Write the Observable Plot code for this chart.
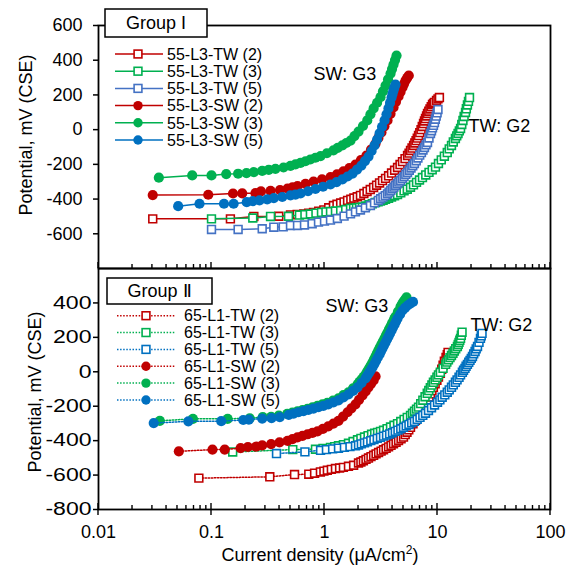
<!DOCTYPE html>
<html><head><meta charset="utf-8">
<script src="https://cdn.jsdelivr.net/npm/d3@7"></script>
<script src="https://cdn.jsdelivr.net/npm/@observablehq/plot@0.6"></script>
<style>
body{margin:0;background:#fff;}
#wrap{position:relative;width:572px;height:565px;font-family:"Liberation Sans",Arial,sans-serif;}
#wrap svg{position:absolute;left:0;}
</style></head><body><div id="wrap"></div>
<script>
// ---------- Data (current density µA/cm², potential mV CSE) ----------
// Group I (top panel)
const topTW2Current = [0.0302, 0.147, 0.237, 0.394, 0.50, 0.573, 0.656, 0.724, 0.80, 0.889, 0.987, 1.09, 1.20, 1.29, 1.39, 1.49, 1.60, 1.71, 1.82, 1.95, 2.08, 2.23, 2.38, 2.54, 2.72, 2.89, 3.07, 3.26, 3.47, 3.69, 3.92, 4.17, 4.43, 4.66, 4.90, 5.16, 5.43, 5.60, 5.77, 5.95, 6.14, 6.30, 6.46, 6.62, 6.79, 6.97, 7.15, 7.33, 7.52, 7.67, 7.83, 8.0, 8.16, 8.37, 8.58, 8.80, 9.03, 9.22, 9.41, 9.80, 10.1, 10.4];
const topTW2Potential = [-514, -514, -500, -499, -491, -488, -485, -481, -477, -470, -462, -450, -437, -430, -423, -416, -408, -401, -394, -387, -379, -368, -356, -345, -333, -320, -307, -294, -281, -266, -250, -234, -218, -201, -184, -167, -149, -135, -120, -106, -91, -77, -63, -49, -34, -17, 0, 18, 35, 50, 64, 79, 93, 106, 119, 132, 145, 151, 157, 168, 177, 185];

const topTW3Current = [0.1, 0.232, 0.333, 0.48, 0.60, 0.671, 0.75, 0.84, 0.94, 1.03, 1.13, 1.25, 1.39, 1.54, 1.70, 1.81, 1.92, 2.04, 2.17, 2.32, 2.48, 2.65, 2.83, 2.98, 3.13, 3.30, 3.47, 3.69, 3.92, 4.17, 4.43, 4.73, 5.06, 5.40, 5.77, 6.13, 6.52, 6.93, 7.36, 7.87, 8.41, 8.98, 9.6, 10.2, 10.8, 11.5, 12.2, 12.7, 13.3, 13.8, 14.4, 14.8, 15.2, 15.6, 16.0, 16.4, 16.8, 17.2, 17.7, 18.0, 18.4, 18.8, 19.2];
const topTW3Potential = [-514, -509, -500, -499, -492, -489, -486, -481, -477, -474, -472, -469, -466, -460, -454, -452, -450, -448, -446, -440, -433, -427, -420, -416, -411, -407, -402, -395, -388, -381, -374, -364, -353, -343, -332, -318, -304, -290, -276, -261, -246, -231, -216, -195, -174, -153, -132, -111, -91, -71, -51, -36, -22, -7, 7, 30, 53, 76, 99, 120, 142, 163, 185];

const topTW5Current = [0.1, 0.172, 0.281, 0.356, 0.431, 0.50, 0.577, 0.665, 0.778, 0.885, 1.0, 1.13, 1.30, 1.49, 1.70, 1.88, 2.08, 2.30, 2.55, 2.77, 3.0, 3.14, 3.29, 3.45, 3.61, 3.73, 3.86, 3.99, 4.12, 4.26, 4.40, 4.55, 4.71, 4.88, 5.06, 5.24, 5.43, 5.63, 5.83, 6.04, 6.25, 6.48, 6.71, 6.96, 7.21, 7.44, 7.67, 7.91, 8.16, 8.41, 8.67, 8.85, 9.03, 9.21, 9.4, 9.57, 9.74, 9.92, 10.1];
const topTW5Potential = [-575, -575, -571, -562, -560, -552, -552, -549, -542, -533, -527, -521, -512, -498, -485, -474, -463, -450, -437, -422, -408, -398, -389, -380, -370, -360, -350, -340, -331, -321, -312, -302, -293, -281, -270, -258, -247, -234, -221, -208, -195, -179, -163, -147, -132, -117, -103, -88, -74, -48, -22, -6, 10, 25, 41, 60, 78, 97, 116];

const topSW2Current = [0.0302, 0.0936, 0.155, 0.187, 0.245, 0.274, 0.333, 0.404, 0.471, 0.521, 0.577, 0.679, 0.80, 0.951, 1.13, 1.29, 1.47, 1.66, 1.88, 2.10, 2.35, 2.58, 2.83, 3.0, 3.19, 3.39, 3.61, 3.84, 4.08, 4.29, 4.52, 4.71, 4.90, 5.05, 5.21, 5.39, 5.57];
const topSW2Potential = [-377, -375, -368, -367, -366, -356, -353, -348, -339, -332, -325, -312, -299, -286, -273, -257, -241, -221, -201, -175, -149, -115, -80, -48, -16, 19, 53, 91, 128, 160, 191, 217, 243, 263, 283, 298, 312];

const topSW3Current = [0.0342, 0.0675, 0.1, 0.135, 0.172, 0.204, 0.237, 0.281, 0.321, 0.368, 0.434, 0.5, 0.554, 0.614, 0.679, 0.75, 0.832, 0.923, 1.05, 1.20, 1.31, 1.44, 1.56, 1.70, 1.84, 2.0, 2.19, 2.39, 2.55, 2.72, 2.92, 3.13, 3.29, 3.47, 3.65, 3.84, 3.96, 4.08, 4.21, 4.34];
const topSW3Potential = [-277, -264, -264, -256, -254, -251, -245, -238, -232, -226, -218, -209, -200, -192, -182, -172, -162, -152, -136, -120, -105, -91, -77, -63, -37, -11, 21, 53, 88, 122, 155, 187, 220, 254, 289, 323, 349, 375, 401, 427];

const topSW5Current = [0.0507, 0.0783, 0.129, 0.157, 0.205, 0.232, 0.266, 0.311, 0.356, 0.423, 0.5, 0.554, 0.614, 0.715, 0.832, 0.970, 1.13, 1.28, 1.44, 1.60, 1.77, 1.94, 2.12, 2.28, 2.45, 2.61, 2.77, 2.92, 3.07, 3.23, 3.40, 3.54, 3.68, 3.80, 3.92, 4.0, 4.08, 4.16, 4.25];
const topSW5Potential = [-441, -427, -427, -427, -418, -412, -408, -402, -394, -388, -379, -374, -368, -355, -342, -329, -316, -302, -287, -270, -253, -230, -207, -181, -155, -123, -91, -57, -22, 16, 53, 88, 122, 154, 185, 206, 226, 243, 260];

// Group II (bottom panel)
const botTW2Current = [0.0773, 0.328, 0.543, 0.726, 0.817, 0.92, 0.988, 1.06, 1.15, 1.25, 1.36, 1.47, 1.63, 1.81, 2.0, 2.10, 2.21, 2.33, 2.45, 2.58, 2.72, 2.86, 3.01, 3.17, 3.33, 3.51, 3.69, 3.88, 4.08, 4.30, 4.52, 4.76, 5.0, 5.18, 5.37, 5.57, 5.77, 6.07, 6.39, 6.73, 7.08, 7.34, 7.60, 7.87, 8.16, 8.41, 8.66, 8.93, 9.2, 9.53, 9.88, 10.2, 10.6, 10.9, 11.2, 11.5, 11.9, 12.2, 12.4];
const botTW2Potential = [-618, -610, -597, -595, -589, -582, -577, -572, -567, -562, -559, -555, -549, -543, -530, -524, -517, -509, -501, -493, -485, -477, -469, -461, -453, -445, -436, -427, -418, -409, -399, -389, -379, -365, -351, -337, -323, -302, -282, -262, -241, -222, -204, -185, -166, -147, -128, -109, -90, -70, -50, -30, -9, 15, 38, 61, 84, 99, 113];

const botTW3Current = [0.154, 0.524, 0.832, 0.970, 1.13, 1.23, 1.33, 1.47, 1.63, 1.79, 1.96, 2.10, 2.26, 2.43, 2.61, 2.78, 2.95, 3.13, 3.33, 3.58, 3.84, 4.12, 4.43, 4.73, 5.06, 5.40, 5.77, 6.01, 6.26, 6.52, 6.79, 7.10, 7.42, 7.76, 8.11, 8.37, 8.64, 8.92, 9.2, 9.53, 9.88, 10.2, 10.6, 11.2, 11.8, 12.1, 12.5, 12.9, 13.3, 13.7, 14.1, 14.5, 15.0, 15.25, 15.5, 15.75, 16.0, 16.25, 16.5];
const botTW3Potential = [-466, -452, -450, -445, -439, -435, -430, -423, -415, -405, -395, -387, -379, -371, -363, -357, -352, -346, -340, -330, -321, -311, -301, -289, -277, -265, -253, -241, -229, -217, -205, -185, -165, -145, -125, -109, -93, -77, -61, -47, -32, -18, -3, 20, 43, 56, 69, 82, 95, 108, 121, 134, 147, 159, 171, 183, 194, 212, 230];

const botTW5Current = [0.376, 0.671, 0.923, 1.04, 1.18, 1.33, 1.50, 1.68, 1.88, 2.0, 2.12, 2.26, 2.40, 2.57, 2.74, 2.93, 3.13, 3.33, 3.54, 3.77, 4.0, 4.23, 4.47, 4.73, 5.0, 5.29, 5.59, 5.91, 6.25, 6.61, 7.0, 7.41, 7.83, 8.32, 8.85, 9.41, 10.0, 10.5, 11.0, 11.6, 12.2, 12.7, 13.3, 13.8, 14.4, 14.9, 15.5, 16.0, 16.6, 17.0, 17.5, 17.9, 18.4, 18.9, 19.4, 19.9, 20.4, 20.9, 21.5, 22.0, 22.6, 23.3, 24.0, 24.4, 24.8];
const botTW5Potential = [-475, -465, -456, -452, -448, -444, -439, -435, -430, -425, -419, -413, -407, -400, -394, -387, -381, -374, -368, -361, -354, -346, -339, -331, -323, -314, -306, -297, -288, -276, -265, -253, -241, -225, -209, -193, -177, -163, -148, -134, -119, -105, -90, -76, -61, -47, -32, -18, -3, 9, 20, 32, 43, 55, 66, 78, 89, 104, 118, 133, 147, 171, 194, 209, 223];

const botSW2Current = [0.0514, 0.102, 0.131, 0.181, 0.210, 0.248, 0.281, 0.337, 0.40, 0.471, 0.521, 0.577, 0.639, 0.708, 0.783, 0.867, 0.968, 1.08, 1.20, 1.33, 1.46, 1.60, 1.73, 1.88, 2.02, 2.17, 2.31, 2.45, 2.58, 2.72, 2.83];
const botSW2Potential = [-462, -452, -452, -443, -437, -435, -427, -420, -410, -401, -391, -381, -372, -363, -355, -346, -332, -317, -301, -285, -260, -235, -212, -189, -163, -137, -114, -90, -70, -50, -27];

const botSW3Current = [0.0349, 0.0685, 0.139, 0.218, 0.284, 0.337, 0.394, 0.468, 0.520, 0.577, 0.639, 0.708, 0.783, 0.867, 0.959, 1.06, 1.19, 1.33, 1.47, 1.63, 1.79, 1.96, 2.04, 2.13, 2.22, 2.31, 2.39, 2.48, 2.57, 2.66, 2.74, 2.83, 2.91, 3.0, 3.09, 3.19, 3.29, 3.40, 3.50, 3.61, 3.72, 3.84, 3.94, 4.04, 4.14, 4.25, 4.47, 4.71, 4.85, 5.0, 5.16, 5.32];
const botSW3Potential = [-285, -273, -273, -270, -263, -262, -254, -244, -237, -230, -222, -215, -206, -198, -189, -180, -167, -154, -136, -119, -96, -73, -59, -44, -30, -15, 3, 20, 38, 55, 72, 89, 107, 124, 142, 159, 177, 194, 211, 228, 246, 263, 278, 292, 307, 321, 350, 379, 393, 408, 420, 432];

const botSW5Current = [0.0308, 0.0624, 0.122, 0.191, 0.214, 0.281, 0.340, 0.402, 0.483, 0.533, 0.589, 0.652, 0.721, 0.799, 0.885, 0.978, 1.08, 1.20, 1.33, 1.47, 1.63, 1.79, 1.96, 2.13, 2.31, 2.39, 2.48, 2.57, 2.66, 2.76, 2.86, 2.96, 3.07, 3.16, 3.26, 3.36, 3.47, 3.58, 3.69, 3.80, 3.92, 4.04, 4.17, 4.30, 4.43, 4.66, 4.90, 5.16, 5.43, 5.74, 6.07];
const botSW5Potential = [-298, -288, -287, -280, -278, -272, -269, -263, -250, -243, -235, -228, -221, -214, -206, -198, -189, -178, -166, -149, -131, -111, -90, -64, -38, -22, -6, 10, 26, 45, 64, 83, 101, 119, 136, 154, 171, 189, 206, 223, 240, 258, 275, 293, 310, 333, 356, 371, 385, 396, 406];

// Names, axes, ticks, annotations
const topNames = ["55-L3-TW (2)", "55-L3-TW (3)", "55-L3-TW (5)", "55-L3-SW (2)", "55-L3-SW (3)", "55-L3-SW (5)"];
const botNames = ["65-L1-TW (2)", "65-L1-TW (3)", "65-L1-TW (5)", "65-L1-SW (2)", "65-L1-SW (3)", "65-L1-SW (5)"];
const groupLabels = ["Group I", "Group Ⅱ"];
const xDomain = [0.01, 100];
const yDomain = [-800, 600];
const xTicks = [0.01, 0.1, 1, 10, 100];
const xTickLabels = ["0.01", "0.1", "1", "10", "100"];
const topYTicks = [-600, -400, -200, 0, 200, 400, 600];
const botYTicks = [-800, -600, -400, -200, 0, 200, 400];
const annotTexts = ["SW: G3", "TW: G2"];
const topAnnotX = [0.80, 18.8], topAnnotY = [318, 21];
const botAnnotX = [1.02, 19.6], botAnnotY = [382, 269];
const xTitle = "Current density (μA/cm";
const yTitle = "Potential, mV (CSE)";

// ---------- Styling ----------
const RED = "#C00000", GREEN = "#00B050", BLUE = "#0070C0", BLUE2 = "#4472C4";
const FONT = '"Liberation Sans", Arial, sans-serif';

const topSeries = [
  {x: topTW2Current, y: topTW2Potential, color: RED, sq: true},
  {x: topTW3Current, y: topTW3Potential, color: GREEN, sq: true},
  {x: topTW5Current, y: topTW5Potential, color: BLUE2, sq: true},
  {x: topSW2Current, y: topSW2Potential, color: RED, sq: false},
  {x: topSW3Current, y: topSW3Potential, color: GREEN, sq: false},
  {x: topSW5Current, y: topSW5Potential, color: BLUE, sq: false}
];
const botSeries = [
  {x: botTW2Current, y: botTW2Potential, color: RED, sq: true},
  {x: botTW3Current, y: botTW3Potential, color: GREEN, sq: true},
  {x: botTW5Current, y: botTW5Potential, color: BLUE, sq: true},
  {x: botSW2Current, y: botSW2Potential, color: RED, sq: false},
  {x: botSW3Current, y: botSW3Potential, color: GREEN, sq: false},
  {x: botSW5Current, y: botSW5Potential, color: BLUE, sq: false}
];

const SQ_R = 4.4, CI_R = 5.1;

function seriesMarks(series, dash) {
  const marks = [];
  for (const s of series) {
    const d = s.x.map((x, i) => ({x, y: s.y[i]}));
    marks.push(Plot.line(d, {x: "x", y: "y", stroke: s.color, strokeWidth: 1.5, strokeDasharray: dash}));
    if (s.sq) marks.push(Plot.dot(d, {x: "x", y: "y", symbol: "square", r: SQ_R, stroke: s.color, strokeWidth: 1.6, fill: "white"}));
    else marks.push(Plot.dot(d, {x: "x", y: "y", r: CI_R, fill: s.color, stroke: "none"}));
  }
  return marks;
}

const W = 572, ML = 98, MR = 22;
const TOP_H = 270, BOT_TOP = 266, BOT_H = 299;

const topChart = Plot.plot({
  width: W, height: TOP_H, marginTop: 25, marginBottom: 2, marginLeft: ML, marginRight: MR,
  x: {type: "log", domain: xDomain, axis: null},
  y: {domain: yDomain, axis: null},
  style: {background: "transparent", overflow: "visible", fontFamily: FONT, color: "black"},
  marks: [
    ...seriesMarks(topSeries, null),
    Plot.text(annotTexts, {x: topAnnotX, y: topAnnotY, text: d => d, textAnchor: "start", fontSize: 18, fill: "black"}),
    Plot.axisY({ticks: topYTicks, tickSize: 5, tickPadding: 11, fontSize: 18, strokeWidth: 1.5, tickFormat: d => String(d), label: null}),
    Plot.frame({stroke: "black", strokeWidth: 1.8})
  ]
});

const botChart = Plot.plot({
  width: W, height: BOT_H, marginTop: 2, marginBottom: 56, marginLeft: ML, marginRight: MR,
  x: {type: "log", domain: xDomain, axis: null},
  y: {domain: yDomain, axis: null},
  style: {background: "transparent", overflow: "visible", fontFamily: FONT, color: "black"},
  marks: [
    ...seriesMarks(botSeries, "1.5 1.6"),
    Plot.text(annotTexts, {x: botAnnotX, y: botAnnotY, text: d => d, textAnchor: "start", fontSize: 18, fill: "black"}),
    Plot.axisY({ticks: botYTicks, tickSize: 5, tickPadding: 2, fontSize: 18, strokeWidth: 1.5, tickFormat: d => String(d), label: null}),
    Plot.axisX({ticks: xTicks, tickSize: 0, tickPadding: 16, fontSize: 18, tickFormat: (d) => xTickLabels[xTicks.indexOf(d)], label: null}),
    Plot.frame({stroke: "black", strokeWidth: 1.8})
  ]
});

const wrap = document.getElementById("wrap");
topChart.style.top = "0px";
botChart.style.top = BOT_TOP + "px";
wrap.appendChild(topChart);
wrap.appendChild(botChart);

// lower-panel tick labels are drawn wider in the reference: stretch glyphs horizontally
d3.select(botChart).selectAll('g[aria-label="y-axis tick label"] text').each(function () {
  const w = this.getComputedTextLength();
  if (w > 0) { this.setAttribute("textLength", (w * 1.28).toFixed(1)); this.setAttribute("lengthAdjust", "spacingAndGlyphs"); }
});

// ---------- log ticks drawn with the charts' own scales ----------
const logTicks = d3.scaleLog().domain(xDomain).ticks();
function isMajor(v) { const l = Math.log10(v); return Math.abs(l - Math.round(l)) < 1e-9; }
function drawXTicks(chart, bothSides) {
  const xs = chart.scale("x"), ys = chart.scale("y");
  const y0 = ys.apply(yDomain[0]);
  const g = d3.select(chart).append("g").attr("stroke", "black").attr("stroke-width", 1.4);
  for (const v of logTicks) {
    const px = xs.apply(v);
    const major = isMajor(v);
    const up = major ? 6 : 4;
    const down = bothSides && major ? 6 : 0;
    g.append("line").attr("x1", px).attr("x2", px).attr("y1", y0 - up).attr("y2", y0 + down);
  }
}
drawXTicks(topChart, false);
drawXTicks(botChart, true);

// ---------- titles ----------
function yTitleText(chart, cx, cy) {
  d3.select(chart).append("text").attr("transform", `translate(${cx},${cy}) rotate(-90)`)
    .attr("text-anchor", "middle").attr("dy", "0.35em").attr("font-size", 18).attr("font-family", FONT)
    .attr("fill", "black").text(yTitle);
}
yTitleText(topChart, 26, 135);
yTitleText(botChart, 35, 392 - BOT_TOP);

const xt = d3.select(botChart).append("text").attr("x", 320).attr("y", 561 - BOT_TOP)
  .attr("text-anchor", "middle").attr("font-size", 18).attr("font-family", FONT).attr("fill", "black");
xt.append("tspan").text(xTitle);
xt.append("tspan").attr("font-size", 12).attr("dy", -7).text("2");
xt.append("tspan").attr("dy", 7).text(")");

// ---------- legends ----------
function legend(chart, opt) {
  const g = d3.select(chart).append("g").attr("font-family", FONT).attr("text-anchor", "start");
  g.append("rect").attr("x", opt.bx).attr("y", opt.by).attr("width", opt.bw).attr("height", opt.bh)
    .attr("fill", "white").attr("stroke", "black").attr("stroke-width", 1.5);
  g.append("text").attr("x", opt.bx + opt.bw / 2).attr("y", opt.by + opt.bh / 2).attr("dy", "0.36em")
    .attr("text-anchor", "middle").attr("font-size", 18).attr("fill", "black").text(opt.title);
  opt.series.forEach((s, i) => {
    const y = opt.y0 + i * opt.dy;
    g.append("line").attr("x1", opt.lx1).attr("x2", opt.lx2).attr("y1", y).attr("y2", y)
      .attr("stroke", s.color).attr("stroke-width", 1.5).attr("stroke-dasharray", opt.dash);
    if (s.sq) {
      const a = SQ_R * Math.sqrt(Math.PI) / 2;
      g.append("rect").attr("x", opt.mx - a).attr("y", y - a).attr("width", 2 * a).attr("height", 2 * a)
        .attr("fill", "white").attr("stroke", s.color).attr("stroke-width", 1.6);
    } else {
      g.append("circle").attr("cx", opt.mx).attr("cy", y).attr("r", CI_R - 0.4).attr("fill", s.color);
    }
    g.append("text").attr("x", opt.tx).attr("y", y).attr("dy", "0.36em").attr("font-size", 16)
      .attr("text-anchor", "start").attr("fill", "black").text(opt.names[i]);
  });
}
legend(topChart, {bx: 105, by: 9, bw: 102, bh: 28, title: groupLabels[0], series: topSeries, names: topNames,
  y0: 54, dy: 17.2, lx1: 115, lx2: 163, mx: 138, tx: 167, dash: null});
legend(botChart, {bx: 107, by: 278 - BOT_TOP, bw: 105, bh: 26, title: groupLabels[1], series: botSeries, names: botNames,
  y0: 315.7 - BOT_TOP, dy: 16.85, lx1: 117, lx2: 175, mx: 146, tx: 184, dash: "1.5 1.6"});
</script></body></html>
